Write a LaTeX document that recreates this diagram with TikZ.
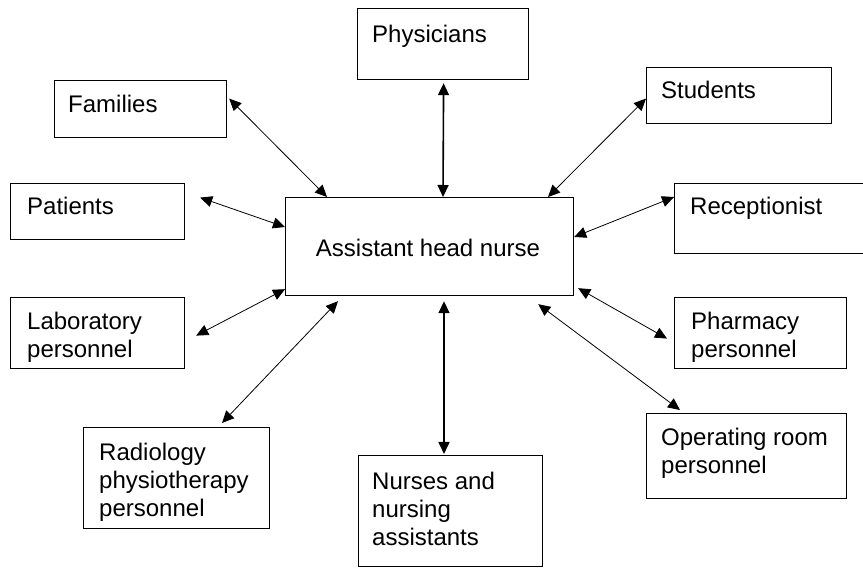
\documentclass[tikz,border=0pt]{standalone}
\usepackage{fontspec}
\setmainfont{Liberation Sans}
\usetikzlibrary{arrows.meta,calc}
\begin{document}
\begin{tikzpicture}[x=1pt,y=-1pt,
  box/.style={draw, line width=1.2pt, inner sep=0pt, anchor=north west},
  lbl/.style={anchor=north west, inner sep=0pt, align=left, font=\fontsize{24}{28}\selectfont},
  link/.style={line width=0.8pt, {Triangle[length=12pt,width=11pt]}-{Triangle[length=12pt,width=11pt]}},
  biglink/.style={line width=1.6pt, {Triangle[length=12pt,width=11pt]}-{Triangle[length=12pt,width=11pt]}}
]
\clip (0,0) rectangle (863,569);
\fill[white] (0,0) rectangle (863,569);
% boxes
\node[box, minimum width=172pt, minimum height=57pt] (fam) at (54,80) {};
\node[box, minimum width=174pt, minimum height=56pt] (pat) at (10,183) {};
\node[box, minimum width=171pt, minimum height=71pt] (phys) at (357,8) {};
\node[box, minimum width=185pt, minimum height=56pt] (stu) at (646,67) {};
\node[box, minimum width=206pt, minimum height=70pt] (rec) at (674,183) {};
\node[box, minimum width=288pt, minimum height=98pt] (ahn) at (285,197) {};
\node[box, minimum width=174pt, minimum height=71pt] (lab) at (10,297) {};
\node[box, minimum width=186pt, minimum height=101pt] (rad) at (83,427) {};
\node[box, minimum width=184pt, minimum height=111pt] (nur) at (358,455) {};
\node[box, minimum width=172pt, minimum height=71pt] (pha) at (674,297) {};
\node[box, minimum width=200pt, minimum height=85pt] (opr) at (646,413) {};
% texts
\node[lbl] (tfam) at (68,95) {Families};
\node[lbl] (tpat) at (27,197) {Patients};
\node[lbl] (tphys) at (372,25) {Physicians};
\node[lbl] (tstu) at (661,81) {Students};
\node[lbl] (trec) at (690,197) {Receptionist};
\node[lbl] (tlab) at (27,312) {Laboratory\\personnel};
\node[lbl] (trad) at (99,443) {Radiology\\physiotherapy\\personnel};
\node[lbl] (tnur) at (372,472) {Nurses and\\nursing\\assistants};
\node[lbl] (tpha) at (691,312) {Pharmacy\\personnel};
\node[lbl] (topr) at (661,428) {Operating room\\personnel};
\node[lbl, anchor=center] (tahn) at (428,248) {Assistant head nurse};
% connectors
\draw[link] ($(fam.east)+(2,-10.5)$) -- ($(ahn.north west)+(42,0)$);
\draw[biglink] ($(phys.south)+(0.5,3)$) -- ($(ahn.north west)+(158,0)$);
\draw[link] ($(stu.west)+(0,3)$) -- ($(ahn.north west)+(263,0)$);
\draw[link] ($(pat.east)+(15,-14)$) -- ($(ahn.north west)+(0,30)$);
\draw[link] ($(rec.north west)+(0,14)$) -- ($(ahn.north east)+(0,40)$);
\draw[link] ($(lab.east)+(11,2.5)$) -- ($(ahn.south west)+(0,-7)$);
\draw[link] ($(rad.north west)+(139,-4)$) -- ($(ahn.south west)+(53,5)$);
\draw[biglink] ($(nur.north west)+(86,-1)$) -- ($(ahn.south west)+(159,5)$);
\draw[link] ($(pha.west)+(-7,5.5)$) -- ($(ahn.south east)+(4,-8)$);
\draw[link] ($(opr.north west)+(34,-3)$) -- ($(ahn.south east)+(-36,8)$);
\end{tikzpicture}
\end{document}
